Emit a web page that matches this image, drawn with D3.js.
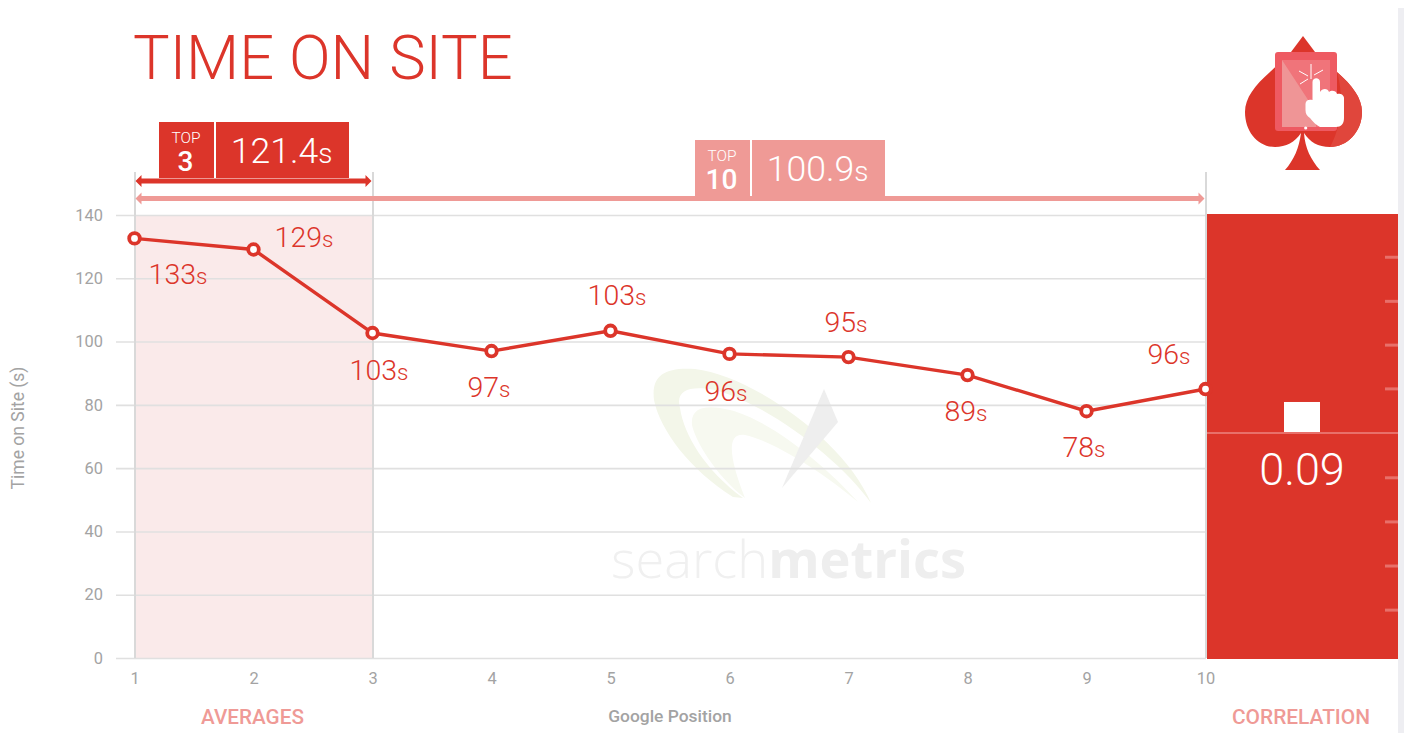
<!DOCTYPE html>
<html><head><meta charset="utf-8">
<script src="https://cdn.jsdelivr.net/npm/d3@7"></script>
<style>html,body{margin:0;padding:0;background:#fff}svg{display:block;font-family:Roboto,sans-serif}</style>
</head><body><div id="c"></div>
<script>
const positions=[1,2,3,4,5,6,7,8,9,10];
const seconds=[132.6,129.1,102.7,97,103.4,96.1,95.1,89.4,78,85];
const labels=["133","129","103","97","103","96","95","89","78","96"];
const labelDx=[43,50,6,-3,6,-4,-3,-2,-3,-37];
const labelDy=[36,-12,37,36,-36,37,-35,36,36,-35];
const yTicks=[0,20,40,60,80,100,120,140];
const correlation=0.09;
const corrTicks=[0.51,0.382,0.255,0.128,-0.13,-0.258,-0.386,-0.514];
const topGroups=[{n:"3",v:"121.4",from:1,to:3},{n:"10",v:"100.9",from:1,to:10}];
const RED="#dc352a",PINK="#ef9a96",GRID="#e0e0e0";

const svg=d3.select("#c").append("svg").attr("width",1407).attr("height",733);
const x=d3.scaleLinear().domain([1,10]).range([134.5,1205.5]);
const y=d3.scaleLinear().domain([0,140]).range([658,215]);
const c=d3.scaleLinear().domain([-0.65,0.65]).range([657,209]);

// page edge
svg.append("rect").attr("x",1398).attr("y",8).attr("width",6).attr("height",725).attr("fill","#eeeef2");

// top-3 shade
svg.append("rect").attr("x",x(1)).attr("y",y(140)).attr("width",x(3)-x(1)).attr("height",y(0)-y(140)).attr("fill","#faeaea");

// watermark
const wm=svg.append("g");
wm.append("path").attr("fill","#f3f6e9").attr("d","M733 497C690 470 660 430 654 400C651 375 665 367 695 369C750 375 845 440 871 503C840 460 770 405 715 390C690 385 675 390 680 408C684 435 705 470 743 498Z");
wm.append("path").attr("fill","#f7f9f0").attr("d","M745 498C715 475 695 440 692 425C690 405 710 405 730 410C770 420 825 465 858 502C820 470 770 440 745 435C725 432 730 460 745 498Z");
wm.append("path").attr("fill","#eeeeee").attr("d","M824 389L838 422L782 488Z");
const wt=wm.append("text").attr("x",611).attr("y",578).attr("font-family","'Open Sans',sans-serif").attr("font-size",52).attr("textLength",355).attr("lengthAdjust","spacingAndGlyphs");
wt.append("tspan").attr("font-weight",300).attr("fill","#f0f0f0").text("search");
wt.append("tspan").attr("font-weight",700).attr("fill","#eeeeee").text("metrics");

// grid
svg.append("g").selectAll("line").data(yTicks).join("line")
 .attr("x1",116).attr("x2",1206).attr("y1",d=>y(d)+.5).attr("y2",d=>y(d)+.5)
 .attr("stroke",GRID).attr("stroke-width",1.6);

// axes via d3
const ax=svg.append("g").call(d3.axisLeft(y).tickValues(yTicks).tickSize(0).tickPadding(0));
ax.select(".domain").remove();
ax.selectAll("text").attr("x",103).attr("dy","0.32em").attr("text-anchor","end").attr("font-size",16.4).attr("fill","#a3a3a3").attr("font-family","Roboto");
const bx=svg.append("g").attr("transform","translate(0,679)").call(d3.axisBottom(x).tickValues(positions).tickFormat(d3.format("d")).tickSize(0).tickPadding(0));
bx.select(".domain").remove();
bx.selectAll("text").attr("dy","0.32em").attr("y",0).attr("font-size",16.4).attr("fill","#a3a3a3").attr("font-family","Roboto");

svg.append("text").attr("transform","translate(23.500,428) rotate(-90)").attr("text-anchor","middle").attr("font-size",17.500).attr("fill","#a3a3a3").text("Time on Site (s)");
svg.append("text").attr("x",670).attr("y",722).attr("text-anchor","middle").attr("font-size",17.400).attr("font-weight",500).attr("fill","#a3a3a3").text("Google Position");
svg.append("text").attr("x",252.5).attr("y",724).attr("text-anchor","middle").attr("font-size",20.700).attr("font-weight",500).attr("fill",PINK).text("AVERAGES");
svg.append("text").attr("x",1301).attr("y",724).attr("text-anchor","middle").attr("font-size",20.900).attr("font-weight",500).attr("fill",PINK).text("CORRELATION");

// vertical markers
svg.append("g").selectAll("line").data([1,3,10]).join("line")
 .attr("x1",d=>x(d)+.5).attr("x2",d=>x(d)+.5).attr("y1",172).attr("y2",658).attr("stroke","#d9d9d9").attr("stroke-width",2);

// title
svg.append("text").attr("x",133).attr("y",79).attr("font-size",61.400).attr("font-weight",300).attr("fill",RED).text("TIME ON SITE");

// range arrows + badges
function range(g,yy,color,h,bx0,w1,w2,top,sz){
 const a=x(g.from)+1,b=x(g.to)-1,t=sz;
 svg.append("path").attr("fill",color).attr("d",`M${a} ${yy}L${a+t} ${yy-t}L${a+t} ${yy-t/2+.5}L${b-t} ${yy-t/2+.5}L${b-t} ${yy-t}L${b} ${yy}L${b-t} ${yy+t}L${b-t} ${yy+t/2-.5}L${a+t} ${yy+t/2-.5}L${a+t} ${yy+t}Z`);
 svg.append("rect").attr("x",bx0).attr("y",top).attr("width",w1).attr("height",h).attr("fill",color);
 svg.append("rect").attr("x",bx0+w1+2).attr("y",top).attr("width",w2).attr("height",h).attr("fill",color);
 svg.append("text").attr("x",bx0+w1/2-.5).attr("y",top+21).attr("text-anchor","middle").attr("font-size",15.500).attr("font-weight",300).attr("fill","#fff").text("TOP");
 svg.append("text").attr("x",bx0+w1/2-1).attr("y",top+49).attr("text-anchor","middle").attr("font-size",28).attr("font-weight",500).attr("fill","#fff").text(g.n);
 const v=svg.append("text").attr("x",bx0+w1+2+w2/2-1).attr("y",top+41).attr("text-anchor","middle").attr("font-weight",300).attr("fill","#fff");
 v.append("tspan").attr("font-size",35.600).text(g.v);
 v.append("tspan").attr("font-size",28).text("s");
}
range(topGroups[1],198.5,PINK,56,695,55,133,140,6);
range(topGroups[0],181,RED,56,159,55,133,122,6);

// correlation panel
svg.append("rect").attr("x",1207).attr("y",214).attr("width",191).attr("height",445).attr("fill",RED);
svg.append("g").selectAll("line").data(corrTicks).join("line")
 .attr("x1",1385).attr("x2",1398).attr("y1",d=>c(d)).attr("y2",d=>c(d)).attr("stroke","#e8706a").attr("stroke-width",3);
svg.append("line").attr("x1",1207).attr("x2",1398).attr("y1",c(0)).attr("y2",c(0)).attr("stroke","#e8706a").attr("stroke-width",2);
svg.append("rect").attr("x",1284).attr("width",36).attr("y",c(correlation)).attr("height",c(0)-c(correlation)-1).attr("fill","#fff");
svg.append("text").attr("x",1302).attr("y",485).attr("text-anchor","middle").attr("font-size",45).attr("font-weight",300).attr("fill","#fff").text(d3.format(".2f")(correlation));

// line
const line=d3.line().x((d,i)=>x(positions[i])).y(d=>y(d));
svg.append("path").datum(seconds).attr("fill","none").attr("stroke",RED).attr("stroke-width",3.4).attr("d",line);
svg.append("g").selectAll("circle").data(seconds).join("circle")
 .attr("cx",(d,i)=>x(positions[i])).attr("cy",d=>y(d)).attr("r",5.3).attr("fill","#fff").attr("stroke",RED).attr("stroke-width",3.8);
const lab=svg.append("g").selectAll("text").data(labels).join("text")
 .attr("x",(d,i)=>x(positions[i])+labelDx[i]+.5).attr("y",(d,i)=>y(seconds[i])+labelDy[i]+10)
 .attr("text-anchor","middle").attr("font-weight",300).attr("fill",RED);
lab.append("tspan").attr("font-size",28.500).text(d=>d);
lab.append("tspan").attr("font-size",22.500).text("s");

// icon
const ic=svg.append("g");
ic.append("path").attr("fill",RED).attr("d","M1303 36L1315 52L1337 72C1352 85 1362 98 1362 112C1362 132 1347 147 1330 147C1318 147 1310 142 1304 133C1305 148 1311 160 1320 170L1285 170C1294 160 1299 148 1301 133C1295 142 1286 147 1275 147C1258 147 1245 132 1245 112C1245 98 1255 85 1270 72L1291 52Z");
ic.append("path").attr("fill","#e0463c").attr("d","M1337 72C1352 85 1362 98 1362 112C1362 132 1347 147 1330 147C1340 130 1345 100 1337 72Z");
ic.append("rect").attr("x",1275).attr("y",52).attr("width",62).attr("height",79).attr("rx",3).attr("fill","#ee5a62");
ic.append("rect").attr("x",1282).attr("y",60).attr("width",48).attr("height",67).attr("fill","#f0747a");
ic.append("path").attr("fill","#ef9596").attr("d","M1282 60L1316 112L1316 127L1282 127Z");
ic.append("circle").attr("cx",1305.7).attr("cy",128).attr("r",1.6).attr("fill","#fff");
ic.append("path").attr("fill","#fff").attr("d","M1312.500 82C1312.500 77 1320 77 1320 82L1320 92C1322 88 1328 88 1329 92C1331 90 1336 90 1337 94C1339 93 1344 94 1344 98L1344 118C1344 124 1341 127 1336 127L1320 127C1316 125 1313 122 1310 118C1307 116 1305.500 114 1305.500 110L1305.500 104C1305.500 100 1309 99 1312.500 100Z");
ic.append("path").attr("fill","none").attr("stroke","#fff").attr("stroke-width",1).attr("d","M1311 64V79M1299 71L1308 76M1323 70L1314 75M1300 84L1308 79");
</script></body></html>
